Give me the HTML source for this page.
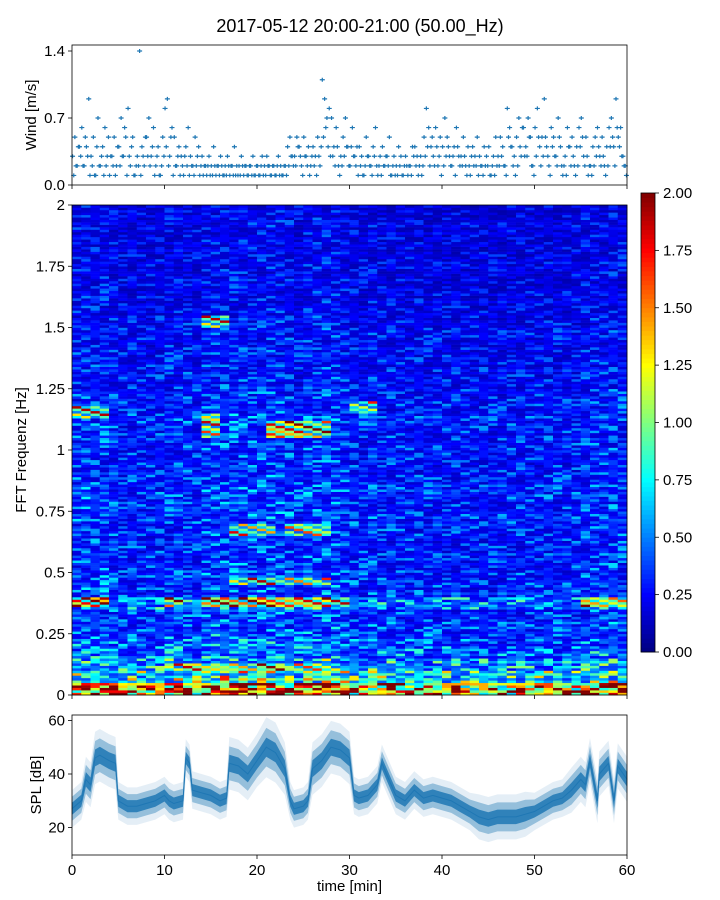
<!DOCTYPE html>
<html><head><meta charset="utf-8">
<style>
html,body{margin:0;padding:0;background:#fff;}
svg{display:block;font-family:"Liberation Sans","DejaVu Sans",sans-serif;}
</style></head>
<body>
<svg id="fig" width="720" height="900" viewBox="0 0 720 900">
<text x="360" y="32" text-anchor="middle" font-size="18" fill="#000">2017-05-12 20:00-21:00 (50.00_Hz)</text>
<g id="wind"></g>
<g id="heat"></g>
<g id="cbar"></g>
<g id="spl"></g>
<text x="349.5" y="891" text-anchor="middle" font-size="15">time [min]</text>
<text transform="translate(36,115) rotate(-90)" text-anchor="middle" font-size="15">Wind [m/s]</text>
<text transform="translate(26,450) rotate(-90)" text-anchor="middle" font-size="15">FFT Frequenz [Hz]</text>
<text transform="translate(41,785) rotate(-90)" text-anchor="middle" font-size="15">SPL [dB]</text>
</svg>
<script>
// ---- data ----
const xTicks = [0,10,20,30,40,50,60];
const windTicks = [0.0,0.7,1.4];
const windTickLabels = ["0.0","0.7","1.4"];
const windValues = [
.3,.5,.2,.4, .6,.2,.4,.9, .3,.5,.1,.7, .2,.4,.6,.3, .1,.3,.5,.2,
.4,.7,.3,.5, .8,.2,.5,.1, .3,1.4,.4,.2, .5,.7,.3,.6, .2,.4,.1,.5,
.8,.9,.3,.6, .5,.2,.4,.3, .1,.4,.6,.3, .2,.5,.3,.1, .3,.2,.1,.3,
.2,.4,.1,.2, .3,.1,.2,.3, .1,.2,.4,.2, .2,.3,.1,.2, .1,.2,.3,.1,
.2,.1,.3,.2, .3,.2,.1,.2, .1,.3,.2,.1, .2,.4,.5,.3, .3,.5,.4,.2,
.5,.3,.4,.2, .4,.3,.5,.2, 1.1,.9,.7,.8, .7,.4,.6,.2, .3,.5,.7,.4,
.2,.6,.3,.4, .4,.3,.1,.5, .3,.2,.4,.6, .1,.3,.4,.2, .3,.5,.1,.3,
.2,.4,.3,.1, .3,.1,.2,.4, .4,.3,.2,.1, .5,.8,.6,.4, .3,.6,.2,.5,
.4,.7,.5,.3, .2,.4,.6,.3, .3,.5,.2,.4, .1,.4,.3,.5, .3,.2,.4,.3,
.4,.1,.3,.5, .3,.5,.4,.2, .8,.6,.4,.3, .5,.7,.3,.6, .4,.7,.5,.2,
.6,.8,.4,.5, .9,.4,.2,.6, .5,.3,.7,.4, .1,.3,.6,.4, .5,.2,.4,.6,
.7,.3,.5,.1, .2,.4,.5,.6, .3,.5,.2,.4, .6,.7,.4,.9, .5,.6,.3,.2];
const windValues2 = [
.1,.2,.4,.3, .2,.5,.3,.1, .2,.1,.4,.2, .3,.1,.2,.5, .3,.2,.1,.4,
.2,.3,.6,.1, .3,.4,.1,.2, .2,.1,.3,.5, .3,.2,.4,.1, .3,.1,.2,.3,
.4,.2,.5,.1, .2,.3,.1,.2, .3,.2,.1,.2, .1,.2,.4,.2, .1,.2,.2,.1,
.1,.2,.2,.1, .2,.1,.1,.2, .2,.1,.1,.1, .1,.2,.2,.1, .2,.1,.1,.2,
.1,.2,.1,.1, .2,.1,.2,.1, .2,.1,.1,.2, .1,.2,.3,.2, .2,.4,.3,.1,
.3,.2,.1,.3, .2,.1,.3,.4, .5,.6,.4,.3, .3,.2,.4,.1, .2,.3,.4,.2,
.4,.3,.2,.1, .2,.1,.2,.3, .2,.1,.3,.2, .2,.1,.2,.3, .2,.1,.2,.1,
.1,.2,.1,.2, .2,.2,.1,.3, .2,.1,.3,.2, .3,.4,.2,.5, .2,.4,.3,.1,
.2,.3,.4,.2, .3,.1,.4,.2, .2,.3,.1,.2, .3,.2,.2,.1, .2,.1,.2,.2,
.1,.2,.1,.2, .2,.3,.2,.1, .5,.4,.2,.1, .2,.4,.6,.3, .3,.5,.2,.1,
.3,.5,.2,.3, .5,.3,.1,.4, .3,.2,.5,.2, .2,.1,.4,.2, .3,.1,.2,.4,
.5,.2,.3,.2, .1,.2,.3,.4, .2,.3,.1,.2, .4,.5,.2,.6, .4,.3,.2,.1];

const freqTicks = [0,0.25,0.5,0.75,1,1.25,1.5,1.75,2];
const freqTickLabels = ["0","0.25","0.5","0.75","1","1.25","1.5","1.75","2"];
// mean level per 0.05 Hz bin from 0 to 2 Hz (40 bins)
const freqProfile = [1.6,0.8,0.6,0.48,0.42,0.38,0.36,0.55,0.36,0.36,
0.34,0.33,0.33,0.34,0.36,0.34,0.36,0.34,0.32,0.32,
0.33,0.33,0.35,0.32,0.31,0.29,0.29,0.28,0.27,0.28,
0.26,0.24,0.24,0.23,0.23,0.23,0.22,0.22,0.23,0.21];
// per-minute gain (60 columns)
const timeGain = [1.05,1.1,1.05,1.1,1.0,0.92,0.95,0.92,0.92,0.95,1.0,1.0,1.02,0.95,1.08,1.1,1.12,1.15,1.12,1.1,
1.12,1.15,1.12,1.05,0.95,1.1,1.12,1.15,1.12,1.02,0.95,0.92,1.0,0.92,0.95,0.92,0.9,0.92,0.9,0.9,
0.9,0.9,0.9,0.88,0.88,0.88,0.88,0.9,0.9,0.9,0.9,0.92,0.92,0.9,0.92,1.0,1.02,1.0,1.05,1.02];
// hotspots: start min, end min, low Hz, high Hz, value
const hotStart = [0,10,14,17,28,55,10,14,21,25,14,17,23,17,0,30];
const hotEnd   = [4,12,17,28,30,60,28,16,25,28,17,22,28,28,4,33];
const hotLow   = [0.36,0.36,0.36,0.36,0.36,0.36,0.10,1.05,1.05,1.05,1.50,0.65,0.65,0.45,1.13,1.15];
const hotHigh  = [0.40,0.40,0.40,0.40,0.40,0.40,0.13,1.15,1.12,1.12,1.55,0.70,0.70,0.48,1.18,1.20];
const hotValue = [1.6,1.2,1.5,1.4,1.0,1.2,1.1,1.1,1.4,1.1,1.0,0.95,0.95,1.0,1.0,0.9];
const texture = [1,0.55,1.5,0.7,1.1,0.45,1.7,0.85,1.2,0.6,1.0,0.75,1.3,0.5,0.9,1.9,0.65];

const cbarTicks = [0,0.25,0.5,0.75,1,1.25,1.5,1.75,2];
const cbarTickLabels = ["0.00","0.25","0.50","0.75","1.00","1.25","1.50","1.75","2.00"];

const splTicks = [20,40,60];
const splTime = [0,1,1.5,2,2.5,3,4,4.7,5,6,7,8,9,10,10.5,11,12,12.3,12.7,13,14,15,16,16.7,17,18,19,20,21,22,23,23.6,24,25,25.5,26,27,28,29,30,30.5,31,32,33,33.5,34,35,36,37,38,39,40,41,42,43,44,45,46,47,48,49,50,51,52,53,54,55,55.5,56,56.8,57,58,58.6,59,60];
const splMid  = [27,30,38,36,46,47,45,44,30,28,28,29,30,32,30,29,30,46,44,34,33,32,30,31,44,43,40,45,50,48,42,30,27,28,30,42,45,50,49,46,32,31,32,36,44,40,32,30,34,31,32,31,30,28,26,24,23,24,24,24,25,26,28,30,31,34,38,36,45,30,40,44,30,43,38];
const splSpread = [5,5,6,6,7,7,7,7,5,5,5,5,5,5,5,5,5,5,5,5,5,5,5,5,7,7,7,7,8,8,7,5,5,5,5,7,7,7,7,7,5,5,5,5,5,5,5,5,5,5,5,5,5,5,5,6,6,6,6,6,6,5,5,5,5,6,6,6,6,6,6,6,6,6,6];

// ---- helpers ----
const NS="http://www.w3.org/2000/svg";
function mk(tag,attrs,parent){const e=document.createElementNS(NS,tag);for(const k in attrs)e.setAttribute(k,attrs[k]);parent.appendChild(e);return e;}
const X0=72,X1=627;
const xs=t=>X0+(t/60)*(X1-X0);
function jet(v){let x=Math.max(0,Math.min(1,v/2));
 const r=Math.max(0,Math.min(1,1.5-Math.abs(4*x-3)));
 const g=Math.max(0,Math.min(1,1.5-Math.abs(4*x-2)));
 const b=Math.max(0,Math.min(1,1.5-Math.abs(4*x-1)));
 return `rgb(${Math.round(r*255)},${Math.round(g*255)},${Math.round(b*255)})`;}
function xAxis(g,yb,labels){
 xTicks.forEach(t=>{
  const l=mk('line',{x1:xs(t),x2:xs(t),y1:yb,y2:yb+4,stroke:'#000','stroke-width':0.8},g);
  
  
  if(labels){const tx=mk('text',{x:xs(t),y:yb+20,'text-anchor':'middle','font-size':15},g);tx.textContent=t;
   
   }
 });
}
function yTick(g,y,label,name){
 const l=mk('line',{x1:X0-4,x2:X0,y1:y,y2:y,stroke:'#000','stroke-width':0.8},g);
 
 
 const tx=mk('text',{x:X0-7,y:y+5,'text-anchor':'end','font-size':15},g);tx.textContent=label;
 
 
}

// ---- wind ----
(function(){
 const g=document.getElementById('wind');
 const T=45,B=185,ys=v=>B-(v/1.4)*(B-51);
 function plot(arr,off){
  arr.forEach((v,i)=>{
   const x=xs(i*0.25+off),y=ys(v);
   const p=mk('path',{d:`M${x-2.5},${y}h5M${x},${y-2}v4`,stroke:'#1f77b4','stroke-width':1.2},g);
   
   
  });
 }
 plot(windValues,0.06);plot(windValues2,0.19);
 const fr=mk('rect',{x:X0,y:T,width:X1-X0,height:B-T,fill:'none',stroke:'#000','stroke-width':0.8},g);
 
 
 windTicks.forEach((t,i)=>yTick(g,ys(t),windTickLabels[i],'wind-y'));
 xAxis(g,B,false);
})();

// ---- spectrogram ----
(function(){
 const g=document.getElementById('heat');
 const T=205,B=695,NR=200,NC=60;
 const fy=f=>B-(f/2)*(B-T);
 const rh=(B-T)/NR,cw=(X1-X0)/NC;
 for(let c=0;c<NC;c++){
  for(let r=0;r<NR;r++){
   const f=(r+0.5)*2/NR;
   let v=freqProfile[Math.min(39,Math.floor(f/0.05))]*timeGain[c];
   v*=texture[(r*5+c*3+(r*c)%7)%texture.length];
   const t=c+0.5;
   for(let h=0;h<hotStart.length;h++){
    if(t>=hotStart[h]&&t<hotEnd[h]&&f>=hotLow[h]&&f<hotHigh[h]) v=Math.max(v,hotValue[h]*texture[(r+c)%texture.length]);
   }
   const rc=mk('rect',{x:(X0+c*cw).toFixed(2),y:(fy(f)-rh/2).toFixed(2),width:(cw+0.3).toFixed(2),height:(rh+0.3).toFixed(2),fill:jet(v)},g);
   
   
  }
 }
 const fr=mk('rect',{x:X0,y:T,width:X1-X0,height:B-T,fill:'none',stroke:'#000','stroke-width':0.8},g);
 
 
 freqTicks.forEach((t,i)=>yTick(g,fy(t),freqTickLabels[i],'freq-y'));
 xAxis(g,B,false);
})();

// ---- colorbar ----
(function(){
 const g=document.getElementById('cbar');
 const L=641,R=655,T=193,B=652;
 const cy=v=>B-(v/2)*(B-T);
 for(let i=0;i<100;i++){
  const v=(i+0.5)*2/100;
  const rc=mk('rect',{x:L,y:(cy(v)-(B-T)/200).toFixed(2),width:R-L,height:((B-T)/100+0.4).toFixed(2),fill:jet(v)},g);
  
  
 }
 const fr=mk('rect',{x:L,y:T,width:R-L,height:B-T,fill:'none',stroke:'#000','stroke-width':0.8},g);
 
 
 cbarTicks.forEach((t,i)=>{
  const l=mk('line',{x1:R,x2:R+4,y1:cy(t),y2:cy(t),stroke:'#000','stroke-width':0.8},g);
  
  
  const tx=mk('text',{x:R+8,y:cy(t)+5,'font-size':15},g);tx.textContent=cbarTickLabels[i];
  
  
 });
})();

// ---- SPL ----
(function(){
 const g=document.getElementById('spl');
 const T=715,B=855;
 const ys=v=>774-(v-40)*2.68;
 function band(k,op){
  let up=splTime.map((t,i)=>`${xs(t).toFixed(1)},${ys(splMid[i]+splSpread[i]*k).toFixed(1)}`);
  let dn=splTime.map((t,i)=>`${xs(t).toFixed(1)},${ys(splMid[i]-splSpread[i]*k).toFixed(1)}`).reverse();
  const p=mk('polygon',{points:up.concat(dn).join(' '),fill:'#1f77b4','fill-opacity':op},g);
  
  
 }
 band(1.4,0.12);band(0.9,0.4);band(0.45,0.85);
 const ln=mk('polyline',{points:splTime.map((t,i)=>`${xs(t).toFixed(1)},${ys(splMid[i]).toFixed(1)}`).join(' '),fill:'none',stroke:'#1f77b4','stroke-width':1},g);
 
 
 const fr=mk('rect',{x:X0,y:T,width:X1-X0,height:B-T,fill:'none',stroke:'#000','stroke-width':0.8},g);
 
 
 splTicks.forEach(t=>yTick(g,ys(t),String(t),'spl-y'));
 xAxis(g,B,true);
})();
</script>
</body></html>
